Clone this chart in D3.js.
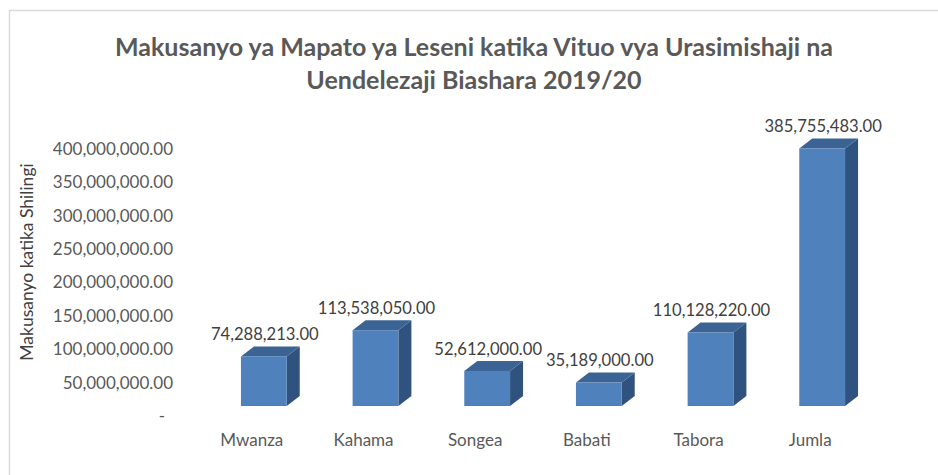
<!DOCTYPE html>
<html>
<head>
<meta charset="utf-8">
<script src="https://cdn.jsdelivr.net/npm/d3@7"></script>
<style>
  body { margin: 0; background: #fff; }
  text { font-family: Lato, "Noto Sans", sans-serif; }
</style>
</head>
<body>
<div id="chart"></div>
<script>
var categories = ["Mwanza", "Kahama", "Songea", "Babati", "Tabora", "Jumla"];
var values = [74288213, 113538050, 52612000, 35189000, 110128220, 385755483];
var tickValues = [0, 50000000, 100000000, 150000000, 200000000, 250000000, 300000000, 350000000, 400000000];
var titleLines = ["Makusanyo ya Mapato ya Leseni katika Vituo vya Urasimishaji na", "Uendelezaji Biashara 2019/20"];
var yTitle = "Makusanyo katika Shilingi";

var width = 938, height = 475;
var depthX = 13, depthY = -10;

var svg = d3.select("#chart")
  .append("svg")
  .attr("width", width)
  .attr("height", height);

// chart frame (cropped on right and bottom)
svg.append("rect")
  .attr("x", 9.5).attr("y", 10.5)
  .attr("width", 960).attr("height", 500)
  .style("fill", "none")
  .style("stroke", "#d9d9d9")
  .style("stroke-width", 1.5);

var fmt = d3.format(",.2f");

var x = d3.scaleBand()
  .domain(categories)
  .range([208, 878])
  .paddingInner(0.59)
  .paddingOuter(0.295);

var y = d3.scaleLinear()
  .domain([0, 400000000])
  .range([406, 139]);

// title
svg.selectAll(".title")
  .data(titleLines)
  .enter().append("text")
  .attr("class", "title")
  .attr("x", 474)
  .attr("y", function (d, i) { return 56 + i * 33; })
  .style("text-anchor", "middle")
  .style("font-size", "25px")
  .style("font-weight", "bold")
  .style("fill", "#595959")
  .text(function (d) { return d; });

// y axis (labels sit on the back wall, a bit lower than the bar fronts)
var yAxis = svg.append("g")
  .attr("transform", "translate(173," + (-depthY) + ")")
  .call(d3.axisLeft(y)
    .tickValues(tickValues)
    .tickSize(0)
    .tickPadding(0)
    .tickFormat(function (d) { return d === 0 ? "-" : fmt(d); }));
yAxis.select(".domain").remove();
yAxis.selectAll("text")
  .style("font-family", "Lato, 'Noto Sans', sans-serif")
  .style("font-size", "17px")
  .style("fill", "#595959")
  .attr("dx", function (d) { return d === 0 ? -8 : 0; });

svg.append("text")
  .attr("transform", "translate(33,262) rotate(-90)")
  .style("text-anchor", "middle")
  .style("font-size", "17.5px")
  .style("fill", "#404040")
  .text(yTitle);

// 3D bars
var bars = svg.selectAll(".bar")
  .data(categories.map(function (c, i) { return { cat: c, val: values[i] }; }))
  .enter().append("g")
  .attr("class", "bar");

function poly(pts) {
  return "M" + pts.map(function (p) { return p.join(","); }).join("L") + "Z";
}

bars.append("path")
  .attr("d", function (d) {
    var x0 = x(d.cat), x1 = x0 + x.bandwidth(), yt = y(d.val), yb = y(0);
    return poly([[x1, yt], [x1 + depthX, yt + depthY], [x1 + depthX, yb + depthY], [x1, yb]]);
  })
  .style("fill", "#30527e");

bars.append("path")
  .attr("d", function (d) {
    var x0 = x(d.cat), x1 = x0 + x.bandwidth(), yt = y(d.val);
    return poly([[x0, yt], [x0 + depthX, yt + depthY], [x1 + depthX, yt + depthY], [x1, yt]]);
  })
  .style("fill", "#3b6495");

bars.append("rect")
  .attr("x", function (d) { return x(d.cat); })
  .attr("y", function (d) { return y(d.val); })
  .attr("width", x.bandwidth())
  .attr("height", function (d) { return y(0) - y(d.val); })
  .style("fill", "#4f81bd");

// value labels
bars.append("text")
  .attr("x", function (d) { return x(d.cat) + x.bandwidth() / 2 + 1; })
  .attr("y", function (d) { return y(d.val) - 22; })
  .attr("dy", "0.35em")
  .style("text-anchor", "middle")
  .style("font-size", "16.6px")
  .style("fill", "#404040")
  .text(function (d) { return fmt(d.val); });

// category labels
svg.selectAll(".cat")
  .data(categories)
  .enter().append("text")
  .attr("class", "cat")
  .attr("x", function (d) { return x(d) + x.bandwidth() / 2 - 12; })
  .attr("y", 440)
  .attr("dy", "0.35em")
  .style("text-anchor", "middle")
  .style("font-size", "17px")
  .style("fill", "#595959")
  .text(function (d) { return d; });
</script>
</body>
</html>
